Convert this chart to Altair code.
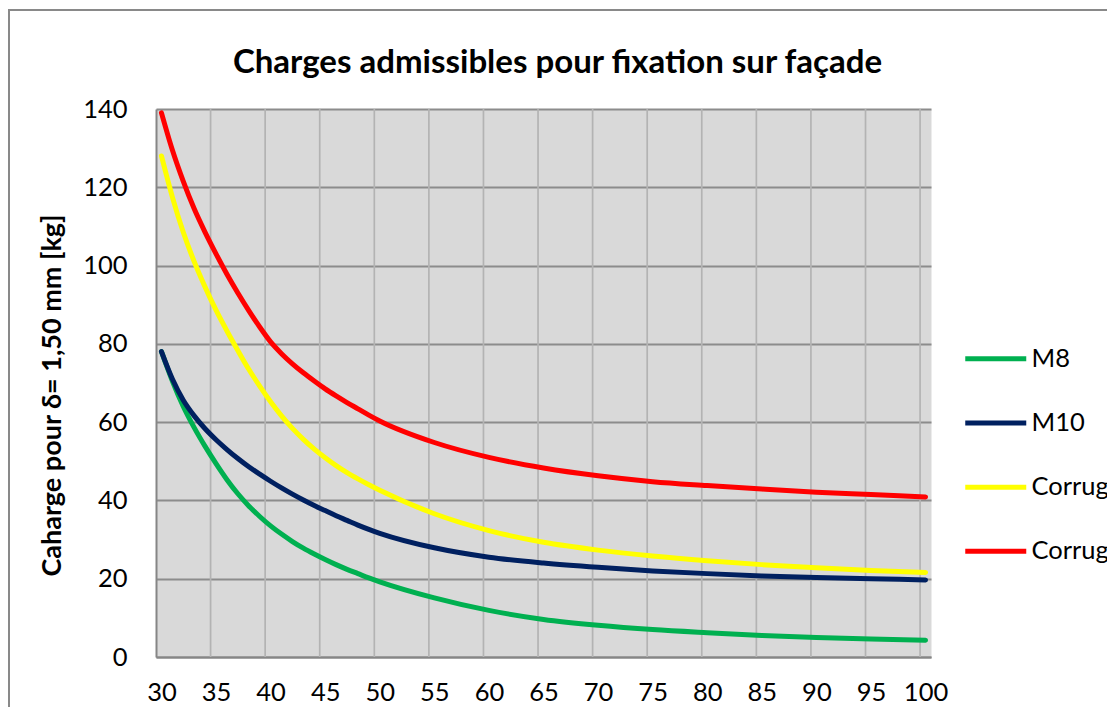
import altair as alt
import pandas as pd

# ---- data ----
x_values = list(range(30, 51)) + list(range(55, 101, 5))
series_names = ["M8", "M10", "Corrugué M8", "Corrugué M10"]
series_colors = ["#00B050", "#002060", "#FFFF00", "#FF0000"]

m8 = [78, 70.5, 64, 58.6, 53.8, 49.4, 45.3, 41.7, 38.6, 35.9, 33.5,
      31.4, 29.5, 27.8, 26.3, 24.9, 23.6, 22.4, 21.3, 20.2, 19.2,
      15.1, 11.9, 9.6, 8.1, 7.0, 6.2, 5.5, 5.0, 4.6, 4.3]
m10 = [78, 71, 65.6, 61.6, 58.3, 55.5, 53, 50.7, 48.6, 46.7, 44.9,
       43.2, 41.6, 40.1, 38.7, 37.4, 36.1, 34.9, 33.7, 32.6, 31.6,
       27.9, 25.5, 24.0, 22.9, 22.0, 21.3, 20.7, 20.3, 20.0, 19.7]
corr_m8 = [128, 117.5, 108.5, 101, 94.5, 88.6, 83.3, 78.3, 73.5, 69.2, 65.2,
           61.6, 58.4, 55.6, 53.1, 50.9, 48.9, 47.1, 45.5, 44.0, 42.6,
           36.6, 32.3, 29.3, 27.3, 25.8, 24.6, 23.6, 22.8, 22.1, 21.6]
corr_m10 = [139, 129.5, 121.5, 114.5, 108.5, 103, 97.8, 93, 88.5, 84.3, 80.5,
            77.5, 74.9, 72.6, 70.5, 68.5, 66.7, 65.0, 63.4, 61.8, 60.3,
            54.8, 51, 48.3, 46.3, 44.8, 43.8, 42.9, 42.1, 41.5, 40.9]

x_ticks = list(range(30, 101, 5))
y_ticks = list(range(0, 141, 20))
title_text = "Charges admissibles pour fixation sur façade"
y_title = "Caharge pour δ= 1,50 mm [kg]"

rows = []
for name, vals in zip(series_names, [m8, m10, corr_m8, corr_m10]):
    for xv, v in zip(x_values, vals):
        rows.append({"x": xv, "charge": v, "serie": name})
df = pd.DataFrame(rows)

# category-style gridlines sit half a step before each labelled value
grid_df = pd.DataFrame({"gx": [t - 0.5 for t in x_ticks[1:]]})

FONT = "Lato"
x_scale = alt.Scale(domain=[29.5, 100.5], nice=False, zero=False)
y_scale = alt.Scale(domain=[0, 140], nice=False)

x_axis = alt.Axis(values=x_ticks, grid=False, ticks=False, tickSize=0,
                  domain=True, domainColor="#868686", domainWidth=2,
                  labelFont=FONT, labelFontSize=25.5, labelColor="black",
                  labelPadding=23.5, labelFlush=False, labelOverlap=False,
                  format="d", title=None)
y_axis = alt.Axis(values=y_ticks, grid=True, gridColor="#8c8c8c", gridWidth=2,
                  ticks=False, tickSize=0, domain=True, domainColor="#868686",
                  domainWidth=2, labelFont=FONT, labelFontSize=25.5,
                  labelColor="black", labelPadding=29, labelFlush=False,
                  title=y_title, titleFont=FONT, titleFontSize=27,
                  titleFontWeight="bold", titleColor="black", titleAngle=270,
                  titleAlign="center", titleBaseline="middle",
                  titleX=-104, titleY=286)

legend = alt.Legend(title=None, orient="none", legendX=827, legendY=237,
                    symbolType="M-12.2,0H12.2", symbolSize=25,
                    symbolStrokeWidth=5, labelFont=FONT, labelFontSize=25.5,
                    labelColor="black", labelOffset=23, rowPadding=37.2,
                    padding=0, labelLimit=400)

border = alt.Chart(pd.DataFrame({"k": [0]})).mark_rect(
    fillOpacity=0, stroke="#898989", strokeWidth=2
).encode(x=alt.value(-147), x2=alt.value(1100), y=alt.value(-99), y2=alt.value(700))

vgrid = alt.Chart(grid_df).mark_rule(color="#b3b3b3", strokeWidth=1.7).encode(
    x=alt.X("gx:Q", scale=x_scale, axis=x_axis)
)

lines = alt.Chart(df).mark_line(
    strokeWidth=5, strokeCap="round", strokeJoin="round", interpolate="monotone"
).encode(
    x=alt.X("x:Q", scale=x_scale, axis=x_axis),
    y=alt.Y("charge:Q", scale=y_scale, axis=y_axis),
    color=alt.Color("serie:N", scale=alt.Scale(domain=series_names, range=series_colors),
                    legend=legend),
)

title_mark = alt.Chart(pd.DataFrame({"t": [title_text]})).mark_text(
    font=FONT, fontSize=33, fontWeight="bold", color="black",
    align="center", baseline="alphabetic"
).encode(text="t:N", x=alt.value(401.5), y=alt.value(-36))

chart = alt.layer(border, vgrid, lines, title_mark).properties(
    width=775, height=548,
    padding={"left": 148, "top": 101, "right": 176, "bottom": 50},
    autosize=alt.AutoSizeParams(type="none"),
    background="white",
).configure_view(fill="#d9d9d9", stroke="transparent")

chart.save("out.html", embed_options={"renderer": "svg", "actions": False})
